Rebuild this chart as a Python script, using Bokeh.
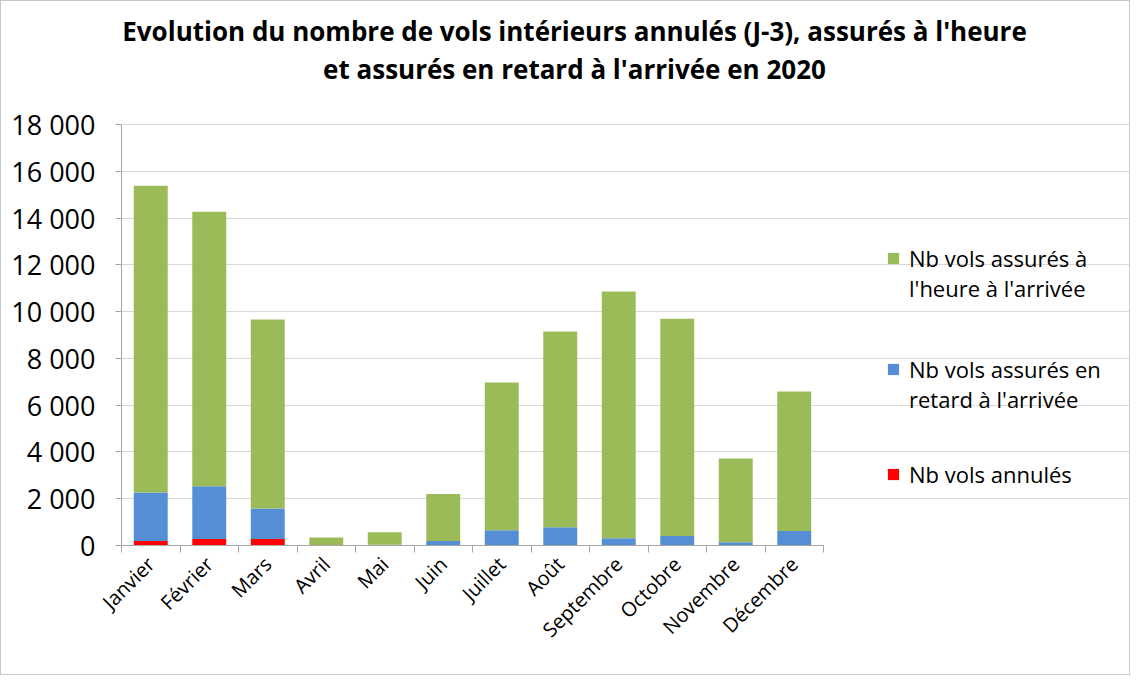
import math
from bokeh.plotting import figure
from bokeh.models import (ColumnDataSource, Range1d, FixedTicker, Legend, LegendItem, Label)
from bokeh.core.properties import value
from bokeh.embed import file_html
from bokeh.resources import INLINE

months = ["Janvier", "Février", "Mars", "Avril", "Mai", "Juin", "Juillet", "Août",
          "Septembre", "Octobre", "Novembre", "Décembre"]
annules = [190, 275, 275, 5, 5, 10, 10, 10, 15, 15, 10, 15]
retard = [2080, 2260, 1305, 20, 30, 180, 640, 770, 300, 390, 130, 600]
heure = [13115, 11735, 8080, 320, 530, 2010, 6315, 8365, 10540, 9295, 3580, 5965]
y_ticks = [0, 2000, 4000, 6000, 8000, 10000, 12000, 14000, 16000, 18000]
title_lines = ["Evolution du nombre de vols intérieurs annulés (J-3), assurés à l'heure",
               "et assurés en retard à l'arrivée en 2020"]

FONT = "Open Sans"
GREEN = "#9BBB59"
BLUE = "#558ED5"
RED = "#FF0000"
AXIS = "#a6a6a6"

W, H = 1130, 675
LEFT, BOTTOM = 120, 131          # frame origin (figure px)
PLOT_W, PLOT_H = 702, 421        # visible plot area (px)
FRAME_W, FRAME_H = W - LEFT, H - BOTTOM

n = len(months)
xs = [i + 0.5 for i in range(n)]
source = ColumnDataSource(dict(x=xs, annules=annules, retard=retard, heure=heure))

ymax = y_ticks[-1]
p = figure(width=W, height=H, output_backend="svg", toolbar_location=None,
           x_range=Range1d(0, n * FRAME_W / PLOT_W),
           y_range=Range1d(0, ymax * FRAME_H / PLOT_H),
           min_border_left=LEFT, min_border_right=0, min_border_top=0,
           min_border_bottom=BOTTOM)
p.outline_line_color = None
p.styles = {"border": "1px solid #c8c8c8"}

rs = p.vbar_stack(["annules", "retard", "heure"], x="x", width=0.58, source=source,
                  color=[RED, BLUE, GREEN], line_color=None)

# axes
p.xgrid.visible = False
p.ygrid.grid_line_color = "#d9d9d9"
p.ygrid.ticker = FixedTicker(ticks=y_ticks)
p.ygrid.bounds = (0, n)

xa = p.xaxis[0]
xa.bounds = (0, n)
xa.ticker = FixedTicker(ticks=xs, minor_ticks=list(range(n + 1)))
xa.major_label_overrides = {x: m for x, m in zip(xs, months)}
xa.major_label_orientation = math.pi / 4
xa.major_tick_out = 0
xa.major_tick_in = 0
xa.minor_tick_out = 7
xa.minor_tick_in = 0
xa.minor_tick_line_color = AXIS
xa.axis_line_color = AXIS
xa.major_label_text_font = FONT
xa.major_label_text_font_size = "20px"
xa.major_label_text_color = "#000000"
xa.major_label_standoff = 8

ya = p.yaxis[0]
ya.bounds = (0, ymax)
ya.ticker = FixedTicker(ticks=y_ticks, minor_ticks=[])
ya.major_label_overrides = {t: f"{t:,}".replace(",", " ") for t in y_ticks}
ya.major_tick_out = 6
ya.major_tick_in = 0
ya.major_tick_line_color = AXIS
ya.axis_line_color = AXIS
ya.major_label_text_font = FONT
ya.major_label_text_font_size = "27px"
ya.major_label_text_color = "#000000"
ya.major_label_standoff = 20

# title
for line, ty in zip(title_lines, [515, 477]):
    p.add_layout(Label(x=453, y=ty, x_units="screen", y_units="screen", text=line,
                       text_align="center", text_baseline="middle",
                       text_font=FONT, text_font_style="bold",
                       text_font_size="26px", text_color="#000000"))

# legends
dummy = p.vbar(x=[], top=[], width=0, fill_alpha=0, line_alpha=0)

def make_legend(items, loc):
    lg = Legend(items=items, location=loc, padding=0, margin=0, spacing=0,
                border_line_color=None, background_fill_alpha=0,
                label_text_font=FONT, label_text_font_size="22px",
                label_height=30, glyph_height=14, glyph_width=14,
                label_standoff=9, label_text_color="#000000")
    p.add_layout(lg)

make_legend([LegendItem(label=value("Nb vols assurés à"), renderers=[rs[2]]),
             LegendItem(label=value("l'heure à l'arrivée"), renderers=[dummy])], (765, 242))
make_legend([LegendItem(label=value("Nb vols assurés en"), renderers=[rs[1]]),
             LegendItem(label=value("retard à l'arrivée"), renderers=[dummy])], (765, 131))
make_legend([LegendItem(label=value("Nb vols annulés"), renderers=[rs[0]])], (765, 56))

open("out.html", "w").write(file_html(p, INLINE))
